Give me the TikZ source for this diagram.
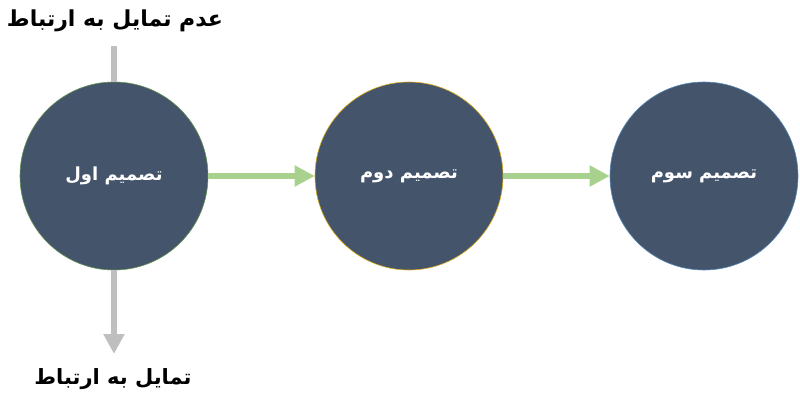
\documentclass[tikz,border=0pt]{standalone}
\usepackage{fontspec}
\TeXXeTstate=1
\newfontfamily\arabicfont[Script=Arabic]{DejaVu Sans}
\usetikzlibrary{arrows.meta}
\definecolor{circfill}{HTML}{44546A}
\definecolor{greenarr}{HTML}{A9D18E}
\definecolor{grayarr}{HTML}{BFBFBF}
\definecolor{bord1}{HTML}{70AD47}
\definecolor{bord2}{HTML}{FFC000}
\definecolor{bord3}{HTML}{5B9BD5}
\newcommand{\lowered}[1]{\raisebox{-4pt}{#1}}
\tikzset{
  decision/.style={circle, fill=circfill, minimum size=188pt, inner sep=0pt, line width=0.6pt,
    text=white, font=\arabicfont\bfseries\fontsize{18}{22}\selectfont},
  greenflow/.style={draw=greenarr, line width=6pt,
    -{Triangle[length=20pt,width=20pt]}},
  grayflow/.style={draw=grayarr, line width=6pt},
  grayflowarr/.style={draw=grayarr, line width=6pt,
    -{Triangle[length=20pt,width=20pt]}},
  label/.style={text=black, font=\arabicfont\bfseries\fontsize{22}{26}\selectfont, inner sep=0pt}
}
\begin{document}
\begin{tikzpicture}[x=1pt,y=-1pt]
\useasboundingbox (0,0) rectangle (800,401);
\node[decision, draw=bord1!70!circfill] (d1) at (114,176) {\lowered{\beginR تصمیم اول\endR}};
\node[decision, draw=bord2!80!circfill] (d2) at (409,176) {\lowered{\beginR تصمیم دوم\endR}};
\node[decision, draw=bord3!70!circfill] (d3) at (704,176) {\lowered{\beginR تصمیم سوم\endR}};
\node[label] (top) at (115,21) {\beginR عدم تمایل به ارتباط\endR};
\node[label, font=\arabicfont\bfseries\fontsize{21}{25}\selectfont] (bot) at (113,379) {\beginR تمایل به ارتباط\endR};
\coordinate (topstart) at (114,46);
\coordinate (botend) at (114,354);
\draw[greenflow] (d1.east) -- (d2.west);
\draw[greenflow] (d2.east) -- (d3.west);
\draw[grayflow] (topstart) -- (d1.north);
\draw[grayflowarr] (d1.south) -- (botend);
\end{tikzpicture}
\end{document}
